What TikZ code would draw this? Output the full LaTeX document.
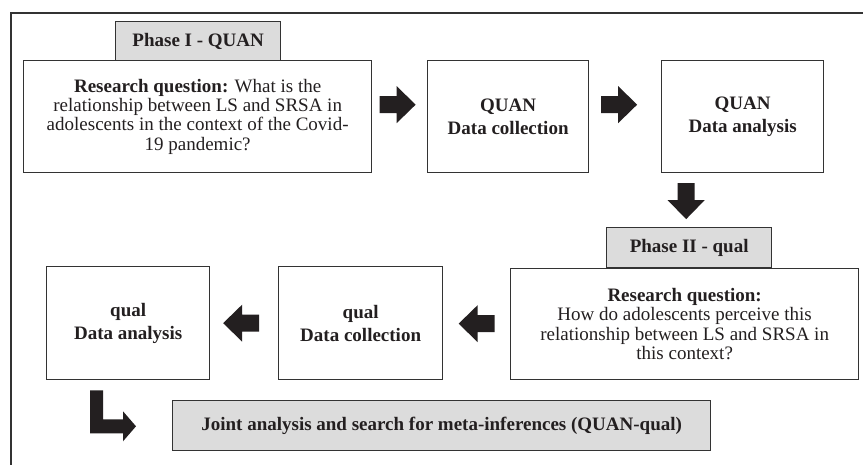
\documentclass[tikz,border=0pt]{standalone}
\usepackage{fontspec}
\setmainfont{Liberation Serif}
\usetikzlibrary{calc}
\definecolor{boxline}{HTML}{333333}
\definecolor{tabfill}{HTML}{DCDCDC}
\definecolor{arrowfill}{HTML}{231F20}
\definecolor{txt}{HTML}{231F20}
\tikzset{
  pics/fatarrow/.style={code={
    \fill[arrowfill] (-18,-8.5) -- (-1,-8.5) -- (-1,-18.5) -- (18,0) -- (-1,18.5) -- (-1,8.5) -- (-18,8.5) -- cycle;}},
}
\begin{document}
\begin{tikzpicture}[x=1pt,y=-1pt,
  box/.style={draw=boxline,line width=1.3pt,fill=white,inner sep=2pt,align=center,anchor=north west,text=txt,font=\fontsize{19}{19.3}\selectfont},
  tabbox/.style={box,fill=tabfill,font=\fontsize{19}{19.3}\selectfont\bfseries},
  boldbox/.style={box,font=\fontsize{19}{23}\selectfont\bfseries},
]
\clip (0,0) rectangle (863,464);
\fill[white] (0,0) rectangle (863,464);
\draw[draw=boxline,line width=1.5pt] (11,480) -- (11,13) -- (880,13);

% Phase I
\node[tabbox,minimum width=165pt,minimum height=39pt] (p1) at (115,21) {Phase I - QUAN};
\node[box,minimum width=348pt,minimum height=112pt] (rq1) at (23,60)
  {\textbf{Research question:} What is the\\relationship between LS and SRSA in\\adolescents in the context of the Covid-\\19 pandemic?};
\node[boldbox,minimum width=161pt,minimum height=112pt] (qc) at (427,60) {QUAN\\Data collection};
\node[boldbox,minimum width=162pt,minimum height=112pt] (qa) at (661,60) {QUAN\\Data analysis};

% Phase II
\node[tabbox,minimum width=165pt,minimum height=40pt] (p2) at (606,227) {Phase II - qual};
\node[box,minimum width=348pt,minimum height=111pt] (rq2) at (510,268)
  {\textbf{Research question:}\\How do adolescents perceive this\\relationship between LS and SRSA in\\this context?};
\node[boldbox,minimum width=164pt,minimum height=113pt] (qd) at (278,266) {qual\\Data collection};
\node[boldbox,minimum width=163pt,minimum height=113pt] (qan) at (46,266) {qual\\Data analysis};

\node[tabbox,minimum width=538pt,minimum height=50pt] (joint) at (172,400)
  {Joint analysis and search for meta-inferences (QUAN-qual)};

% block arrows
\pic at ($(rq1.east)!0.5!(qc.west)+(-2,-12)$) {fatarrow};
\pic at ($(qc.east)!0.5!(qa.west)+(-6,-12)$) {fatarrow};
\pic[rotate=-90] at ($(qa.south -| p2.north)!0.5!(p2.north)+(-3,1)$) {fatarrow};
\pic[rotate=180] at ($(qd.east)!0.5!(rq2.west)$) {fatarrow};
\pic[rotate=180] at ($(qan.east)!0.5!(qd.west)+(-3,0)$) {fatarrow};

% L-shaped arrow
\coordinate (lstart) at ($(qan.south west)+(44,10)$);
\fill[arrowfill] (lstart) -- ++(13,0) -- ++(0,29) -- ++(20,0) -- ++(0,-8) -- ++(13,15) -- ++(-13,15) -- ++(0,-8) -- ++(-33,0) -- cycle;
\end{tikzpicture}
\end{document}
